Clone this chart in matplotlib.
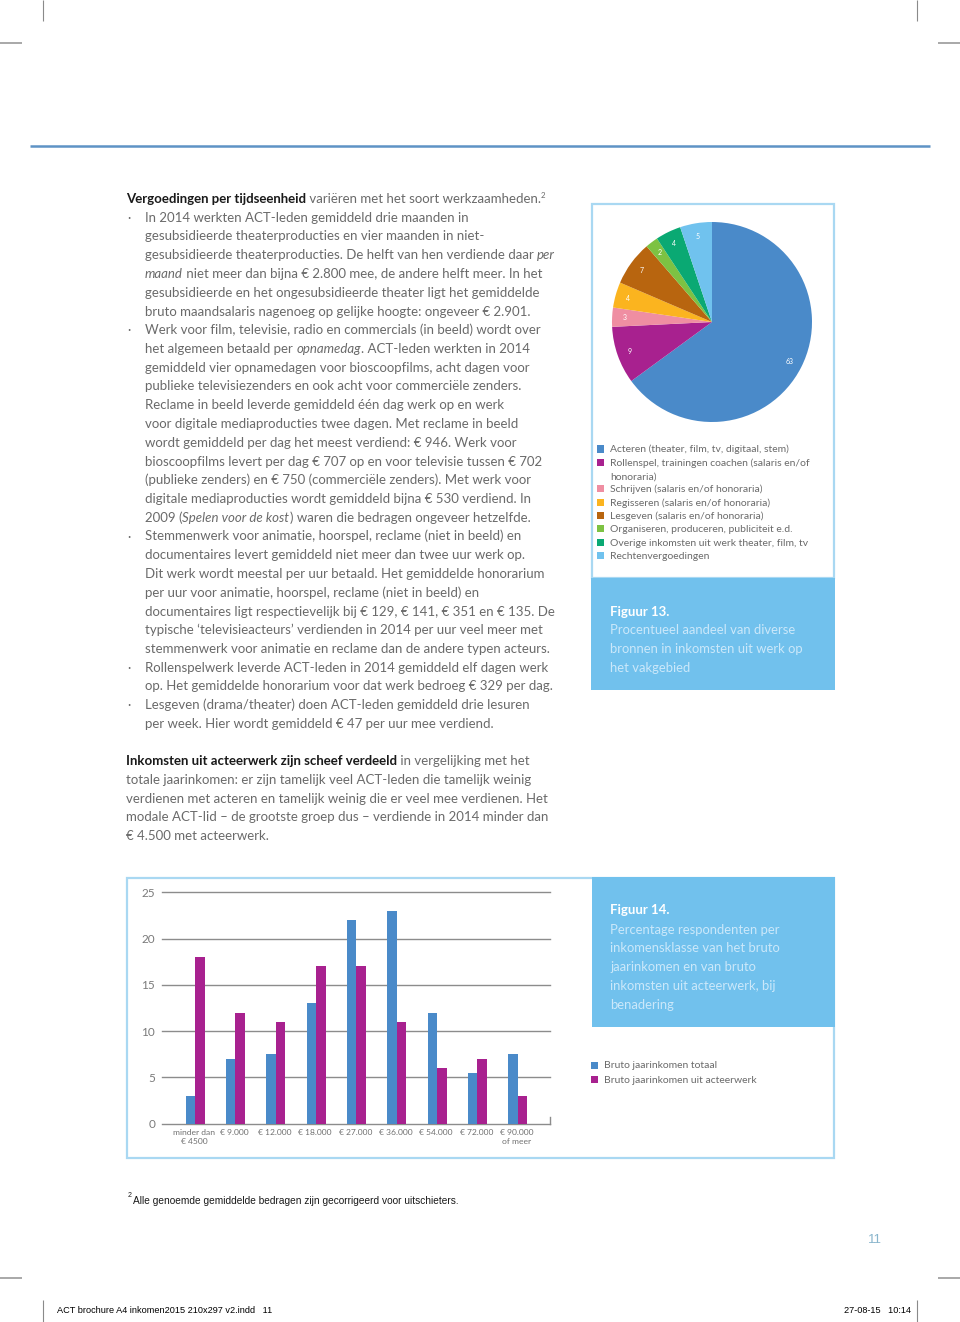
import matplotlib
matplotlib.use("Agg")
import matplotlib.pyplot as plt
from matplotlib.patches import Rectangle
from matplotlib.lines import Line2D
from matplotlib.font_manager import FontProperties

# ---------------- data ----------------
pie_labels = ["Acteren (theater, film, tv, digitaal, stem)",
              "Rollenspel, trainingen coachen (salaris en/of\nhonoraria)",
              "Schrijven (salaris en/of honoraria)",
              "Regisseren (salaris en/of honoraria)",
              "Lesgeven (salaris en/of honoraria)",
              "Organiseren, produceren, publiciteit e.d.",
              "Overige inkomsten uit werk theater, film, tv",
              "Rechtenvergoedingen"]
pie_values = [63, 9, 3, 4, 7, 2, 4, 5]
pie_colors = ["#4a8ac9", "#a8218f", "#ef8ea2", "#fbb41f", "#b8650f",
              "#7dc243", "#0aa973", "#70c2ee"]

bar_categories = ["minder dan\n€ 4500", "€ 9.000", "€ 12.000", "€ 18.000", "€ 27.000",
                  "€ 36.000", "€ 54.000", "€ 72.000", "€ 90.000\nof meer"]
bar_total = [3, 7, 7.5, 13, 22, 23, 12, 5.5, 7.5]
bar_acting = [18, 12, 11, 17, 17, 11, 6, 7, 3]
bar_series = ["Bruto jaarinkomen totaal", "Bruto jaarinkomen uit acteerwerk"]
bar_colors = ["#4a8ac9", "#a8218f"]
y_ticks = [0, 5, 10, 15, 20, 25]

# ---------------- page ----------------
W, H = 960, 1322
fig = plt.figure(figsize=(W / 100, H / 100), dpi=100)
renderer = fig.canvas.get_renderer()

def fx(x):
    return x / W

def fy(y):
    return 1 - y / H

BODY = ["Lato", "DejaVu Sans"]
GRAY = "#6a6a6a"
DARK = "#1a1a1a"
BORDER = "#a9d8f2"
BOXBLUE = "#71c1ed"
SUBBLUE = "#cbe8fa"
BW = "normal"

def hline(x0, x1, y, color, lw):
    fig.add_artist(Line2D([fx(x0), fx(x1)], [fy(y), fy(y)], transform=fig.transFigure,
                          color=color, lw=lw, solid_capstyle="butt"))

def vline(x, y0, y1, color, lw):
    fig.add_artist(Line2D([fx(x), fx(x)], [fy(y0), fy(y1)], transform=fig.transFigure,
                          color=color, lw=lw, solid_capstyle="butt"))

def rect(x0, y0, x1, y1, fc="none", ec="none", lw=0):
    fig.add_artist(Rectangle((fx(x0), fy(y1)), fx(x1) - fx(x0), fy(y0) - fy(y1),
                             transform=fig.transFigure, facecolor=fc, edgecolor=ec, lw=lw))

def seg_width(s, fp):
    w1, _, _ = renderer.get_text_width_height_descent("|" + s + "|", fp, ismath=False)
    w2, _, _ = renderer.get_text_width_height_descent("||", fp, ismath=False)
    return (w1 - w2) / fig.dpi * 100  # pixels at dpi 100

def seg_line(x, y, segs, size=9.5, color=GRAY):
    cx = x
    for txt, st in segs:
        kw = dict(family=BODY, size=size, weight=BW, style="normal")
        col = color
        ty = y
        if st == "b":
            kw["weight"] = "bold"
            col = DARK
        elif st == "i":
            kw["style"] = "italic"
        elif st == "sup":
            kw["size"] = size * 0.6
            ty = y - 5
        fp = FontProperties(**kw)
        fig.text(fx(cx), fy(ty), txt, fontproperties=fp, color=col, ha="left", va="baseline")
        cx += seg_width(txt, fp)

# crop marks
for x in (43, 917):
    vline(x, 0, 21, "#8a8a8a", 0.8)
    vline(x, 1300, 1322, "#8a8a8a", 0.8)
for y in (43, 1278):
    hline(0, 22, y, "#9a9a9a", 1.2)
    hline(938, 960, y, "#9a9a9a", 1.2)

# header rule
hline(30, 930, 146, "#5e93c5", 1.8)

# ---------------- body text ----------------
para1 = [
    (False, [("Vergoedingen per tijdseenheid", "b"), (" variëren met het soort werkzaamheden.", "n"), ("2", "sup")]),
    (True, [("In 2014 werkten ACT-leden gemiddeld drie maanden in", "n")]),
    (False, [("gesubsidieerde theaterproducties en vier maanden in niet-", "n")]),
    (False, [("gesubsidieerde theaterproducties. De helft van hen verdiende daar ", "n"), ("per", "i")]),
    (False, [("maand", "i"), (" niet meer dan bijna € 2.800 mee, de andere helft meer. In het", "n")]),
    (False, [("gesubsidieerde en het ongesubsidieerde theater ligt het gemiddelde", "n")]),
    (False, [("bruto maandsalaris nagenoeg op gelijke hoogte: ongeveer € 2.901.", "n")]),
    (True, [("Werk voor film, televisie, radio en commercials (in beeld) wordt over", "n")]),
    (False, [("het algemeen betaald per ", "n"), ("opnamedag", "i"), (". ACT-leden werkten in 2014", "n")]),
    (False, [("gemiddeld vier opnamedagen voor bioscoopfilms, acht dagen voor", "n")]),
    (False, [("publieke televisiezenders en ook acht voor commerciële zenders.", "n")]),
    (False, [("Reclame in beeld leverde gemiddeld één dag werk op en werk", "n")]),
    (False, [("voor digitale mediaproducties twee dagen. Met reclame in beeld", "n")]),
    (False, [("wordt gemiddeld per dag het meest verdiend: € 946. Werk voor", "n")]),
    (False, [("bioscoopfilms levert per dag € 707 op en voor televisie tussen € 702", "n")]),
    (False, [("(publieke zenders) en € 750 (commerciële zenders). Met werk voor", "n")]),
    (False, [("digitale mediaproducties wordt gemiddeld bijna € 530 verdiend. In", "n")]),
    (False, [("2009 (", "n"), ("Spelen voor de kost", "i"), (") waren die bedragen ongeveer hetzelfde.", "n")]),
    (True, [("Stemmenwerk voor animatie, hoorspel, reclame (niet in beeld) en", "n")]),
    (False, [("documentaires levert gemiddeld niet meer dan twee uur werk op.", "n")]),
    (False, [("Dit werk wordt meestal per uur betaald. Het gemiddelde honorarium", "n")]),
    (False, [("per uur voor animatie, hoorspel, reclame (niet in beeld) en", "n")]),
    (False, [("documentaires ligt respectievelijk bij € 129, € 141, € 351 en € 135. De", "n")]),
    (False, [("typische ‘televisieacteurs’ verdienden in 2014 per uur veel meer met", "n")]),
    (False, [("stemmenwerk voor animatie en reclame dan de andere typen acteurs.", "n")]),
    (True, [("Rollenspelwerk leverde ACT-leden in 2014 gemiddeld elf dagen werk", "n")]),
    (False, [("op. Het gemiddelde honorarium voor dat werk bedroeg € 329 per dag.", "n")]),
    (True, [("Lesgeven (drama/theater) doen ACT-leden gemiddeld drie lesuren", "n")]),
    (False, [("per week. Hier wordt gemiddeld € 47 per uur mee verdiend.", "n")]),
]
LS = 18.75
for i, (bullet, segs) in enumerate(para1):
    yb = 198 + i * LS + 5
    if i == 0:
        seg_line(126, yb, segs)
    else:
        if bullet:
            fig.text(fx(127), fy(yb), "·", family=BODY, size=9, color=GRAY, va="baseline")
        seg_line(145, yb, segs)

para2 = [
    [("Inkomsten uit acteerwerk zijn scheef verdeeld", "b"), (" in vergelijking met het", "n")],
    [("totale jaarinkomen: er zijn tamelijk veel ACT-leden die tamelijk weinig", "n")],
    [("verdienen met acteren en tamelijk weinig die er veel mee verdienen. Het", "n")],
    [("modale ACT-lid – de grootste groep dus – verdiende in 2014 minder dan", "n")],
    [("€ 4.500 met acteerwerk.", "n")],
]
for i, segs in enumerate(para2):
    seg_line(126, 760 + i * LS + 5, segs)

# ---------------- figure 13 (pie) ----------------
rect(592, 204, 834, 578, ec=BORDER, lw=1.6)
rect(591.2, 578, 834.8, 690, fc=BOXBLUE)
fig.text(fx(610), fy(611 + 4.5), "Figuur 13.", family=BODY, weight="bold", size=9.5,
         color="white", va="baseline")
for i, s in enumerate(["Procentueel aandeel van diverse",
                       "bronnen in inkomsten uit werk op",
                       "het vakgebied"]):
    fig.text(fx(610), fy(630 + i * 18.7 + 4.5), s, family=BODY, weight=BW, size=9.4,
             color=SUBBLUE, va="baseline")

ax_pie = fig.add_axes([fx(612), fy(422), fx(812) - fx(612), fy(222) - fy(422)])
total = sum(pie_values)
ax_pie.pie(pie_values, colors=pie_colors, startangle=90, counterclock=False,
           autopct=lambda p: f"{p * total / 100:.0f}", pctdistance=0.87,
           textprops=dict(color="white", size=5, family=BODY),
           wedgeprops=dict(linewidth=0))
ax_pie.set_xlim(-1, 1)
ax_pie.set_ylim(-1, 1)
ax_pie.set_aspect("equal")
ax_pie.axis("off")

ly = 449
for lab, col in zip(pie_labels, pie_colors):
    lines = lab.split("\n")
    rect(597, ly - 3.5, 604, ly + 3.5, fc=col)
    for j, ln in enumerate(lines):
        fig.text(fx(610), fy(ly + j * 13.3 + 3.5), ln, family=BODY, weight=BW, size=7.5,
                 color=GRAY, va="baseline")
    ly += 13.3 * len(lines)

# ---------------- figure 14 (bars) ----------------
rect(127, 878, 834, 1158, ec=BORDER, lw=1.6)
rect(592, 877.2, 834.8, 1027, fc=BOXBLUE)
fig.text(fx(610), fy(910 + 4.5), "Figuur 14.", family=BODY, weight="bold", size=9.5,
         color="white", va="baseline")
for i, s in enumerate(["Percentage respondenten per",
                       "inkomensklasse van het bruto",
                       "jaarinkomen en van bruto",
                       "inkomsten uit acteerwerk, bij",
                       "benadering"]):
    fig.text(fx(610), fy(929 + i * 18.8 + 4.5), s, family=BODY, weight=BW, size=9.4,
             color=SUBBLUE, va="baseline")

for i, (s, col) in enumerate(zip(bar_series, bar_colors)):
    yy = 1065 + i * 14.5
    rect(591, yy - 3.5, 598, yy + 3.5, fc=col)
    fig.text(fx(604), fy(yy + 3.5), s, family=BODY, weight=BW, size=7.5, color=GRAY,
             va="baseline")

ax = fig.add_axes([fx(162), fy(1123.7), fx(550) - fx(162), fy(892.3) - fy(1123.7)])
x = list(range(len(bar_categories)))
bw = 0.235
ax.bar([i - bw / 2 + 0.03 for i in x], bar_total, width=bw, color=bar_colors[0], zorder=3)
ax.bar([i + bw / 2 + 0.03 for i in x], bar_acting, width=bw, color=bar_colors[1], zorder=3)
ax.set_xlim(-0.79, 8.83)
ax.set_ylim(0, 25)
for t in y_ticks[1:]:
    ax.axhline(t, color="#8c8c8c", lw=1.0, zorder=1, clip_on=False)
for s in ("top", "right", "left"):
    ax.spines[s].set_visible(False)
ax.spines["bottom"].set_color("#8c8c8c")
ax.spines["bottom"].set_linewidth(1.0)
ax.set_yticks(y_ticks)
ax.set_yticklabels([str(t) for t in y_ticks], family=BODY, fontweight=BW, size=8.5,
                   color="#7a7a7a")
ax.tick_params(axis="y", length=0, pad=5)
ax.set_xticks(x)
ax.set_xticklabels(bar_categories, family=BODY, fontweight=BW, size=6.1, color="#707070",
                   linespacing=1.25)
ax.tick_params(axis="x", length=0, pad=4)
ax.add_line(Line2D([1, 1], [0, 0.028], transform=ax.transAxes, color="#8c8c8c", lw=1.0,
                   clip_on=False))
ax.patch.set_alpha(0)

# ---------------- footer ----------------
FOOT = ["Liberation Sans Narrow", "Liberation Sans", "DejaVu Sans"]
fig.text(fx(128), fy(1197), "2", family=FOOT, size=5, color=DARK, va="baseline")
fig.text(fx(133), fy(1204), "Alle genoemde gemiddelde bedragen zijn gecorrigeerd voor uitschieters.",
         family=FOOT, size=7.3, color=DARK, va="baseline")
fig.text(fx(875), fy(1243), "11", family=FOOT, size=9.5, color="#89b5cc", ha="center",
         va="baseline")
SLUG = ["Liberation Sans", "DejaVu Sans"]
fig.text(fx(57), fy(1313), "ACT brochure A4 inkomen2015 210x297 v2.indd   11", family=SLUG,
         size=6.6, color="black", va="baseline")
fig.text(fx(911), fy(1313), "27-08-15   10:14", family=SLUG, size=6.6, color="black",
         ha="right", va="baseline")

fig.savefig("out.png", dpi=100)
